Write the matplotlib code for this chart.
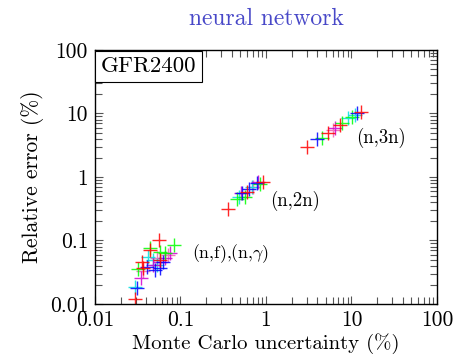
import numpy as np
import matplotlib
matplotlib.use("Agg")
import matplotlib.pyplot as plt
from matplotlib.ticker import FixedLocator, FixedFormatter, LogLocator, NullFormatter

plt.rcParams['font.family'] = ['cmr10', 'DejaVu Serif']
plt.rcParams['mathtext.fontset'] = 'cm'
plt.rcParams['axes.unicode_minus'] = False
plt.rcParams['axes.formatter.use_mathtext'] = True

# Monte Carlo uncertainty (%) vs relative error (%), grouped by marker colour
red_x = [0.0294, 0.0364, 0.0355, 0.044, 0.056, 0.0575, 0.36, 0.60, 0.92, 3.02, 5.31, 7.33, 12.9]
red_y = [0.012, 0.037, 0.046, 0.071, 0.10, 0.049, 0.31, 0.58, 0.83, 2.97, 4.93, 6.59, 10.6]
green_x = [0.044, 0.084, 0.032, 0.0575, 0.066, 0.458, 0.568, 0.85, 4.52, 7.74, 10.1]
green_y = [0.076, 0.085, 0.036, 0.066, 0.064, 0.45, 0.48, 0.78, 4.11, 7.08, 8.81]
blue_x = [0.031, 0.041, 0.050, 0.0575, 0.062, 0.524, 0.632, 0.785, 3.95, 11.6]
blue_y = [0.018, 0.038, 0.034, 0.037, 0.046, 0.56, 0.65, 0.80, 3.96, 10.2]
magenta_x = [0.0345, 0.048, 0.0575, 0.066, 0.075, 0.51, 0.806, 6.41]
magenta_y = [0.026, 0.041, 0.046, 0.053, 0.064, 0.56, 0.83, 5.91]
cyan_x = [0.029, 0.042, 0.048, 0.053, 0.483, 0.686, 9.10, 11.0]
cyan_y = [0.0185, 0.055, 0.049, 0.041, 0.48, 0.70, 8.50, 9.47]
pink_x = [0.036, 0.053, 0.071, 0.705, 6.08]
pink_y = [0.033, 0.053, 0.059, 0.70, 5.50]

decades = [0.01, 0.1, 1, 10, 100]
decade_labels = ["0.01", "0.1", "1", "10", "100"]

fig = plt.figure(figsize=(4.6, 3.6), dpi=100)
ax = fig.add_axes([0.2065, 0.1556, 0.7435, 0.7056])

series = [
    (pink_x, pink_y, "#f060b0"),
    (cyan_x, cyan_y, "#00e0e0"),
    (magenta_x, magenta_y, "#d000d0"),
    (green_x, green_y, "#00ff00"),
    (blue_x, blue_y, "#0000ff"),
    (red_x, red_y, "#ff0000"),
]
for xs, ys, c in series:
    ax.plot(xs, ys, linestyle="none", marker="+", markersize=9.5,
            markeredgewidth=1.0, color=c, alpha=0.85)

ax.set_xscale("log")
ax.set_yscale("log")
ax.set_xlim(0.01, 100)
ax.set_ylim(0.01, 100)

for axis in (ax.xaxis, ax.yaxis):
    axis.set_major_locator(FixedLocator(decades))
    axis.set_major_formatter(FixedFormatter(decade_labels))
    axis.set_minor_locator(LogLocator(base=10, subs=np.arange(2, 10)))
    axis.set_minor_formatter(NullFormatter())

ax.tick_params(which="both", direction="in", top=True, right=True,
               labelsize=15.5, color="#555555")
ax.tick_params(which="major", length=6, width=0.8, pad=5)
ax.tick_params(which="minor", length=5, width=0.8)
for s in ax.spines.values():
    s.set_linewidth(1.0)

ax.set_xlabel("Monte Carlo uncertainty (%)", fontsize=15, labelpad=2)
ax.set_ylabel("Relative error (%)", fontsize=15.5, labelpad=4)

ax.set_title("neural network", color="#4848c8", fontsize=17, pad=18)

ax.annotate("GFR2400", xy=(0, 1), xycoords="axes fraction",
            xytext=(4, -5), textcoords="offset points", fontsize=16.5,
            ha="left", va="top",
            bbox=dict(boxstyle="square,pad=0.25", facecolor="white",
                      edgecolor="black", linewidth=0.8))

ax.text(0.136, 0.061, r"(n,f),(n,$\gamma$)", fontsize=12.8, ha="left", va="center")
ax.text(1.11, 0.42, "(n,2n)", fontsize=13.5, ha="left", va="center")
ax.text(11.3, 4.1, "(n,3n)", fontsize=13.5, ha="left", va="center")

fig.savefig("out.png", dpi=100)
